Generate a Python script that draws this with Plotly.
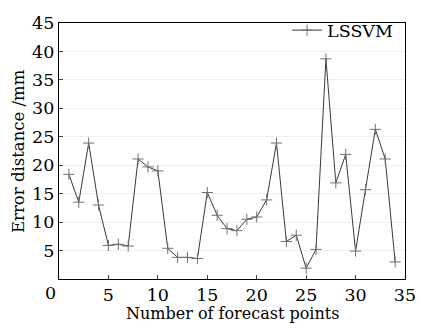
import plotly.graph_objects as go

points = list(range(1, 35))
lssvm = [18.4, 13.5, 23.9, 13.0, 5.9, 6.1, 5.8, 21.1, 19.7, 19.0,
         5.4, 3.8, 3.8, 3.6, 15.2, 11.2, 8.85, 8.5, 10.5, 10.9,
         13.9, 23.9, 6.6, 7.7, 1.9, 5.2, 38.7, 16.9, 21.9, 4.9,
         15.7, 26.3, 21.1, 3.0]
xticks = [5, 10, 15, 20, 25, 30, 35]
yticks = [5, 10, 15, 20, 25, 30, 35, 40, 45]
origin_label = "0"
x_title = "Number of forecast points"
y_title = "Error distance /mm"

font_family = "DejaVu Serif"

fig = go.Figure()
fig.add_trace(go.Scatter(
    x=points, y=lssvm, mode="lines+markers", name="LSSVM",
    line=dict(color="#3a3a3a", width=1),
    marker=dict(symbol="cross-thin-open", size=8,
                line=dict(color="#707070", width=1), color="#707070"),
))

fig.add_annotation(text=origin_label, xref="x", yref="paper", x=0, y=0,
                   xanchor="center", yanchor="middle", xshift=-9, yshift=-14,
                   showarrow=False, font=dict(size=17.5))
fig.add_annotation(text=x_title, xref="paper", yref="paper", x=0.5, y=0,
                   xanchor="center", yanchor="middle", yshift=-34,
                   showarrow=False, font=dict(size=16))
fig.add_annotation(text=y_title, xref="paper", yref="paper", x=0, y=0.5,
                   xanchor="center", yanchor="middle", xshift=-41,
                   textangle=-90, showarrow=False, font=dict(size=16.5))

fig.update_layout(
    width=432, height=328,
    margin=dict(l=59, r=27, t=13, b=49),
    paper_bgcolor="white", plot_bgcolor="white",
    font=dict(family=font_family, size=16, color="black"),
    showlegend=True,
    legend=dict(x=0.98, y=1.042, xanchor="right", yanchor="top",
                bgcolor="rgba(0,0,0,0)", borderwidth=0,
                font=dict(size=17.5), itemwidth=30),
    xaxis=dict(range=[0, 35], tickvals=xticks, ticks="inside", ticklen=4,
               showline=True, linecolor="black", linewidth=1.2, mirror=True,
               showgrid=False, zeroline=False, automargin=False,
               tickfont=dict(size=17.5)),
    yaxis=dict(range=[0, 45], tickvals=yticks, ticks="inside", ticklen=4,
               showline=True, linecolor="black", linewidth=1.2, mirror=True,
               showgrid=True, gridcolor="#efefef", gridwidth=1,
               zeroline=False, automargin=False,
               tickfont=dict(size=17.5)),
)

fig.write_html("out.html", config={"displayModeBar": False},
               post_script="document.body.style.margin='0';")
